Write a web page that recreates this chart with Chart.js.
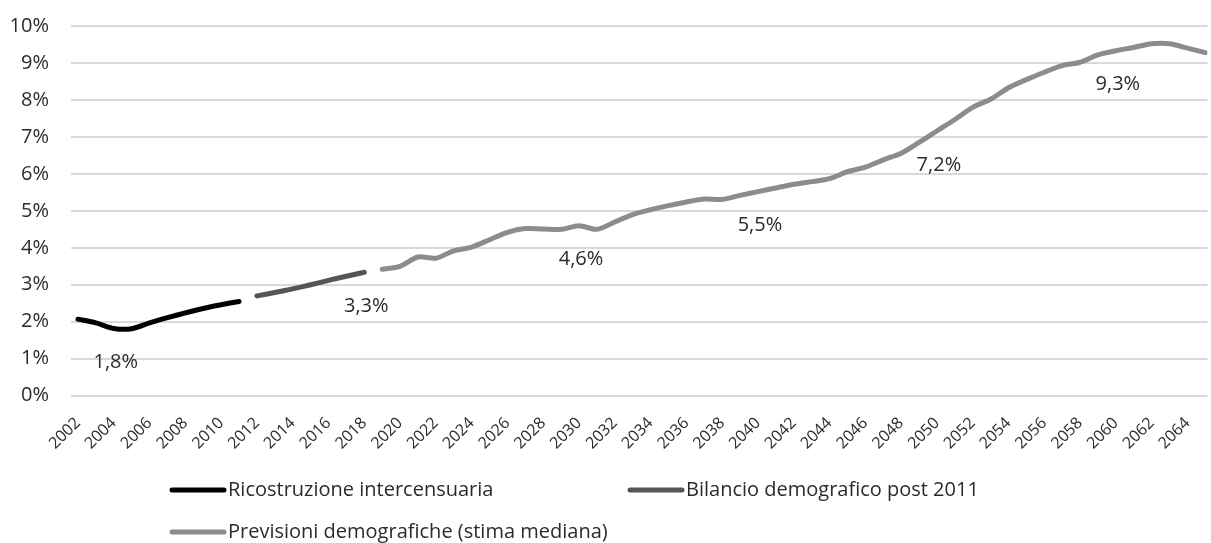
<!DOCTYPE html>
<html>
<head>
<meta charset="utf-8">
<script src="https://cdn.jsdelivr.net/npm/chart.js@4"></script>
<style>
  body { margin: 0; background: #fff; }
  #wrap { width: 1211px; height: 543px; }
</style>
</head>
<body>
<div id="wrap"><canvas id="chart" width="1211" height="543"></canvas></div>
<script>
// years on the x axis
var years = [2002, 2003, 2004, 2005, 2006, 2007, 2008, 2009, 2010, 2011,
             2012, 2013, 2014, 2015, 2016, 2017, 2018, 2019, 2020, 2021,
             2022, 2023, 2024, 2025, 2026, 2027, 2028, 2029, 2030, 2031,
             2032, 2033, 2034, 2035, 2036, 2037, 2038, 2039, 2040, 2041,
             2042, 2043, 2044, 2045, 2046, 2047, 2048, 2049, 2050, 2051,
             2052, 2053, 2054, 2055, 2056, 2057, 2058, 2059, 2060, 2061,
             2062, 2063, 2064, 2065];

// tick labels shown on the x axis (every other year)
var xTicks = [2002, 2004, 2006, 2008, 2010, 2012, 2014, 2016, 2018, 2020,
              2022, 2024, 2026, 2028, 2030, 2032, 2034, 2036, 2038, 2040,
              2042, 2044, 2046, 2048, 2050, 2052, 2054, 2056, 2058, 2060,
              2062, 2064];

var yTicks = [0, 1, 2, 3, 4, 5, 6, 7, 8, 9, 10];

// Ricostruzione intercensuaria (2002-2011)
var ricostruzione = [2.07, 1.97, 1.82, 1.81, 1.97, 2.11, 2.24, 2.36, 2.46, 2.55];
// Bilancio demografico post 2011 (2012-2018)
var bilancio = [2.70, 2.79, 2.89, 3.00, 3.12, 3.23, 3.34];
// Previsioni demografiche, stima mediana (2019-2065)
var previsioni = [3.42, 3.50, 3.75, 3.72, 3.92, 4.02, 4.22, 4.42, 4.52, 4.51,
                  4.50, 4.60, 4.50, 4.70, 4.90, 5.03, 5.14, 5.24, 5.32, 5.31,
                  5.42, 5.52, 5.62, 5.72, 5.79, 5.87, 6.06, 6.18, 6.38, 6.56,
                  6.85, 7.16, 7.47, 7.80, 8.02, 8.33, 8.55, 8.75, 8.93, 9.02,
                  9.22, 9.33, 9.42, 9.52, 9.52, 9.40, 9.28];

// years that get a value label under the line
var labelYears = [2004, 2018, 2030, 2040, 2050, 2060];

var seriesNames = ['Ricostruzione intercensuaria', 'Bilancio demografico post 2011', 'Previsioni demografiche (stima mediana)'];
var seriesColors = ['#000000', '#555555', '#8c8c8c'];

function toPoints(firstYear, values) {
    var start = years.indexOf(firstYear);
    var pts = [];
    for (var i = 0; i < values.length; i++) {
        pts.push({x: years[start + i], y: values[i]});
    }
    return pts;
}

var FONT = "'Open Sans', sans-serif";
var TEXT = '#2b2b2b';

// value labels below selected points
var valueLabels = {
    id: 'valueLabels',
    afterDatasetsDraw: function(chart) {
        var ctx = chart.ctx;
        ctx.save();
        ctx.font = '20px ' + FONT;
        ctx.fillStyle = TEXT;
        ctx.textAlign = 'center';
        ctx.textBaseline = 'middle';
        chart.data.datasets.forEach(function(ds, di) {
            var meta = chart.getDatasetMeta(di);
            ds.data.forEach(function(p, i) {
                if (labelYears.indexOf(p.x) >= 0) {
                    var el = meta.data[i];
                    ctx.fillText(p.y.toFixed(1).replace('.', ',') + '%', el.x + 2, el.y + 34);
                }
            });
        });
        ctx.restore();
    }
};

// excel-like legend: two columns, wraps to a second row
var gridLegend = {
    id: 'gridLegend',
    afterDraw: function(chart) {
        var ctx = chart.ctx;
        var left = 172, colW = 458, rowH = 42, top = 490;
        ctx.save();
        ctx.font = '20px ' + FONT;
        ctx.textBaseline = 'middle';
        chart.data.datasets.forEach(function(ds, i) {
            var x = left + (i % 2) * colW;
            var y = top + Math.floor(i / 2) * rowH;
            ctx.strokeStyle = ds.borderColor;
            ctx.lineWidth = 5;
            ctx.lineCap = 'round';
            ctx.beginPath();
            ctx.moveTo(x, y);
            ctx.lineTo(x + 52, y);
            ctx.stroke();
            ctx.fillStyle = TEXT;
            ctx.fillText(ds.label, x + 56, y);
        });
        ctx.restore();
    }
};

function makeSet(i, pts) {
    return {
        label: seriesNames[i],
        data: pts,
        borderColor: seriesColors[i],
        backgroundColor: seriesColors[i],
        borderWidth: 5,
        borderCapStyle: 'round',
        borderJoinStyle: 'round',
        pointRadius: 0,
        tension: 0.3,
        fill: false
    };
}

const ctx = document.getElementById('chart').getContext('2d');
const chart = new Chart(ctx, {
    type: 'line',
    data: {
        datasets: [
            makeSet(0, toPoints(2002, ricostruzione)),
            makeSet(1, toPoints(2012, bilancio)),
            makeSet(2, toPoints(2019, previsioni))
        ]
    },
    options: {
        responsive: false,
        animation: false,
        layout: { padding: { top: 26, left: 0, right: 0, bottom: 0 } },
        plugins: {
            legend: { display: false },
            tooltip: { enabled: false }
        },
        scales: {
            x: {
                type: 'linear',
                min: 2001.61,
                max: 2065.12,
                afterBuildTicks: function(scale) {
                    scale.ticks = xTicks.map(function(v) { return {value: v}; });
                },
                afterFit: function(scale) { scale.height = 147.3; },
                grid: { display: false },
                border: { display: false },
                ticks: {
                    autoSkip: false,
                    minRotation: 45,
                    maxRotation: 45,
                    padding: 10,
                    color: TEXT,
                    font: { family: FONT, size: 16 },
                    callback: function(v) { return String(v); }
                }
            },
            y: {
                min: 0,
                max: 10,
                afterBuildTicks: function(scale) {
                    scale.ticks = yTicks.map(function(v) { return {value: v}; });
                },
                afterFit: function(scale) {
                    scale.width = 71;
                    // the label padding should not push the plot area down
                    scale.paddingTop = 0;
                    scale.paddingBottom = 0;
                },
                grid: { color: '#d9d9d9', lineWidth: 2, drawTicks: false },
                border: { display: false },
                ticks: {
                    padding: 22,
                    color: TEXT,
                    font: { family: FONT, size: 20 },
                    callback: function(v) { return v + '%'; }
                }
            }
        }
    },
    plugins: [valueLabels, gridLegend]
});
</script>
</body>
</html>
